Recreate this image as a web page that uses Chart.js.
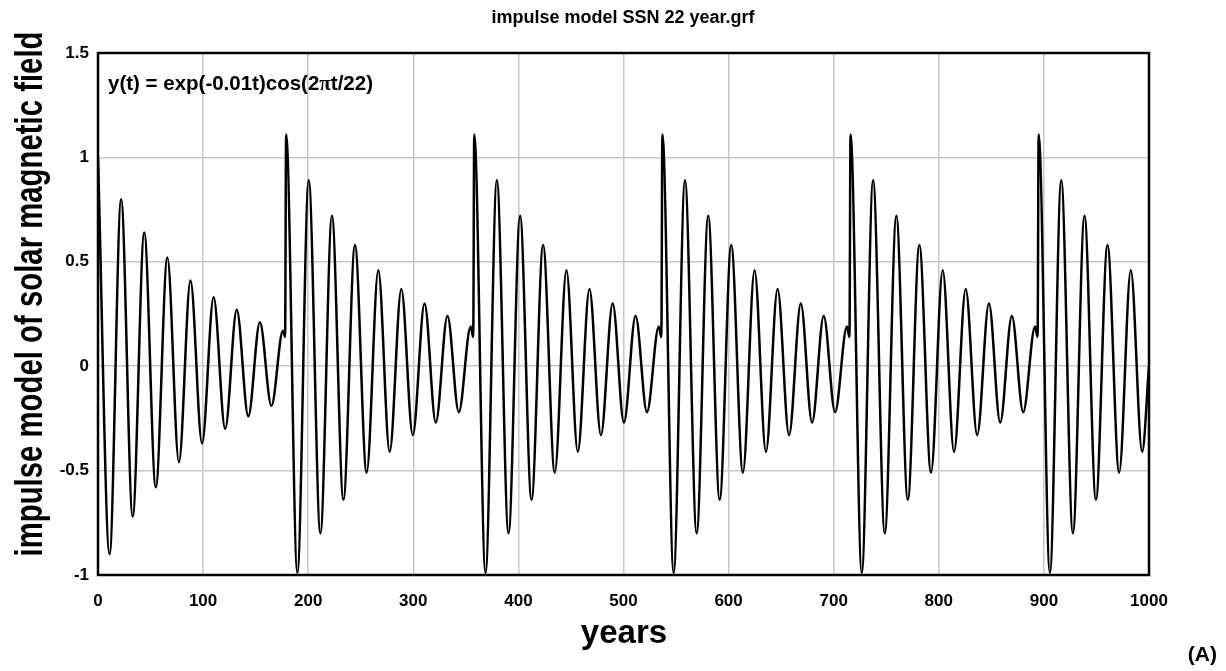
<!DOCTYPE html>
<html>
<head>
<meta charset="utf-8">
<title>impulse model SSN 22 year.grf</title>
<script src="https://cdn.jsdelivr.net/npm/chart.js@4.4.1/dist/chart.umd.min.js"></script>
<style>
	html, body { margin: 0; padding: 0; background: #fff; }
	#wrap { position: relative; width: 1226px; height: 671px; }
</style>
</head>
<body>
<div id="wrap"><canvas id="chart"></canvas></div>
<script>
'use strict';

// turning points of the curve (years, field value)
var years = [
	0, 11, 22, 33, 44, 55, 66, 77, 88, 99, 110, 121, 132, 143, 154, 165, 176, 178,
	179, 189.7, 200.5, 211.6, 222.6, 233.5, 244.5, 255.6, 266.7, 277.5, 288.6, 299.5, 310.7, 321.4, 332.5, 343.3, 354.6, 357,
	358, 368.7, 379.5, 390.6, 401.6, 412.5, 423.5, 434.6, 445.7, 456.5, 467.6, 478.5, 489.7, 500.4, 511.5, 522.3, 533.6, 536,
	537, 547.7, 558.5, 569.6, 580.6, 591.5, 602.5, 613.6, 624.7, 635.5, 646.6, 657.5, 668.7, 679.4, 690.5, 701.3, 712.6, 715,
	716, 726.7, 737.5, 748.6, 759.6, 770.5, 781.5, 792.6, 803.7, 814.5, 825.6, 836.5, 847.7, 858.4, 869.5, 880.3, 891.6, 894,
	895, 905.7, 916.5, 927.6, 938.6, 949.5, 960.5, 971.6, 982.7, 993.5, 1000
];
var field = [
	1.00, -0.90, 0.80, -0.72, 0.64, -0.58, 0.52, -0.46, 0.41, -0.37, 0.33, -0.30, 0.27, -0.24, 0.21, -0.19, 0.17, 0.14,
	1.11, -0.99, 0.89, -0.80, 0.72, -0.64, 0.58, -0.51, 0.46, -0.41, 0.37, -0.33, 0.30, -0.27, 0.24, -0.22, 0.19, 0.14,
	1.11, -0.99, 0.89, -0.80, 0.72, -0.64, 0.58, -0.51, 0.46, -0.41, 0.37, -0.33, 0.30, -0.27, 0.24, -0.22, 0.19, 0.14,
	1.11, -0.99, 0.89, -0.80, 0.72, -0.64, 0.58, -0.51, 0.46, -0.41, 0.37, -0.33, 0.30, -0.27, 0.24, -0.22, 0.19, 0.14,
	1.11, -0.99, 0.89, -0.80, 0.72, -0.64, 0.58, -0.51, 0.46, -0.41, 0.37, -0.33, 0.30, -0.27, 0.24, -0.22, 0.19, 0.14,
	1.11, -0.99, 0.89, -0.80, 0.72, -0.64, 0.58, -0.51, 0.46, -0.41, 0.00
];

var xTickValues = [0, 100, 200, 300, 400, 500, 600, 700, 800, 900, 1000];
var yTickValues = [-1, -0.5, 0, 0.5, 1, 1.5];

var chartTitle = 'impulse model SSN 22 year.grf';
var xTitle = 'years';
var yTitle = 'impulse model of solar magnetic field';
var panelLabel = '(A)';

var sans = '"Liberation Sans", Arial, Helvetica, sans-serif';
var serif = '"Liberation Serif", "Times New Roman", serif';

var points = [];
for (var i = 0; i < years.length; i++) {
	points.push({ x: years[i], y: field[i] });
}

// frame, titles and the formula box are drawn on top of the chart
var decorations = {
	id: 'decorations',
	afterDraw: function (chart) {
		var ctx = chart.ctx;
		var a = chart.chartArea;
		ctx.save();

		ctx.strokeStyle = '#000';
		ctx.lineWidth = 2.5;
		ctx.strokeRect(a.left, a.top, a.right - a.left, a.bottom - a.top);

		ctx.fillStyle = '#000';
		ctx.textBaseline = 'alphabetic';

		ctx.font = 'bold 18px ' + sans;
		ctx.textAlign = 'center';
		ctx.fillText(chartTitle, 623, 23);

		ctx.font = 'bold 33px ' + sans;
		ctx.fillText(xTitle, 624, 643);

		// the axis title in the original is a tall, condensed face
		ctx.save();
		ctx.font = 'bold 39px ' + sans;
		var squeeze = 525 / ctx.measureText(yTitle).width;
		ctx.translate(42, 294);
		ctx.rotate(-Math.PI / 2);
		ctx.scale(squeeze, 1);
		ctx.fillText(yTitle, 0, 0);
		ctx.restore();

		ctx.font = 'bold 21px ' + sans;
		ctx.textAlign = 'right';
		ctx.fillText(panelLabel, 1217, 661);

		// y(t) = exp(-0.01t)cos(2πt/22), pi set in a serif face
		var parts = [
			['y(t) = exp(-0.01t)cos(2', 'bold 20.5px ' + sans],
			['\u03c0', 'bold 21px ' + serif],
			['t/22)', 'bold 20.5px ' + sans]
		];
		var x = 108;
		ctx.textAlign = 'left';
		parts.forEach(function (p) {
			ctx.font = p[1];
			ctx.fillText(p[0], x, 90);
			x += ctx.measureText(p[0]).width;
		});

		ctx.restore();
	}
};

function plainLabel(value) {
	return String(value);
}

Chart.defaults.font.family = sans;
Chart.defaults.font.size = 17;
Chart.defaults.font.weight = 'bold';
Chart.defaults.color = '#000';

new Chart(document.getElementById('chart'), {
	type: 'line',
	data: {
		datasets: [{
			data: points,
			borderColor: '#000',
			borderWidth: 2.5,
			pointRadius: 0,
			fill: false,
			cubicInterpolationMode: 'monotone'
		}]
	},
	options: {
		responsive: true,
		maintainAspectRatio: false,
		animation: false,
		layout: { padding: { top: 53, right: 77, left: 0, bottom: 0 } },
		plugins: {
			legend: { display: false },
			tooltip: { enabled: false }
		},
		scales: {
			x: {
				type: 'linear',
				min: 0,
				max: 1000,
				afterBuildTicks: function (scale) {
					scale.ticks = xTickValues.map(function (v) { return { value: v }; });
				},
				afterFit: function (scale) { scale.height = 96; },
				grid: { color: '#c8c8c8', lineWidth: 1.5, drawTicks: false },
				border: { display: false },
				ticks: { padding: 16, maxRotation: 0, autoSkip: false, callback: plainLabel }
			},
			y: {
				type: 'linear',
				min: -1,
				max: 1.5,
				afterBuildTicks: function (scale) {
					scale.ticks = yTickValues.map(function (v) { return { value: v }; });
				},
				afterFit: function (scale) { scale.width = 98; },
				grid: { color: '#c8c8c8', lineWidth: 1.5, drawTicks: false },
				border: { display: false },
				ticks: { padding: 9, autoSkip: false, callback: plainLabel }
			}
		}
	},
	plugins: [decorations]
});
</script>
</body>
</html>
